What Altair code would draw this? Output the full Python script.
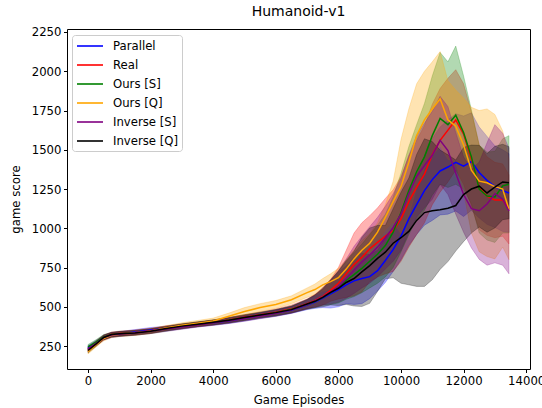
import altair as alt
import pandas as pd

episodes = [0, 250, 500, 750, 1000, 1500, 2000, 2500, 3000, 3500, 4000, 4500, 5000, 5500,
            6000, 6500, 7000, 7250, 7500, 7750, 8000, 8250, 8500, 8750, 9000, 9250, 9500,
            9750, 10000, 10250, 10500, 10750, 11000, 11250, 11500, 11750, 12000, 12250,
            12500, 12750, 13000, 13250, 13450]

series_names = ["Parallel", "Real", "Ours [S]", "Ours [Q]", "Inverse [S]", "Inverse [Q]"]
series_colors = ["blue", "red", "green", "orange", "purple", "black"]

parallel_mean = [238, 270, 303, 320, 327, 340, 353, 362, 374, 387, 398, 411, 427, 444,
                 460, 480, 512, 530, 555, 582, 610, 640, 665, 680, 692, 730, 795,
                 865, 950, 1060, 1150, 1240, 1310, 1365, 1390, 1420, 1395, 1425,
                 1355, 1305, 1265, 1240, 1225]
parallel_std = [15, 15, 15, 15, 15, 15, 15, 15, 15, 15, 16, 17, 18, 18,
                20, 22, 30, 40, 60, 90, 110, 120, 150, 160, 140, 130, 140,
                140, 150, 170, 190, 220, 260, 280, 300, 310, 320, 310,
                290, 280, 260, 260, 250]

real_mean = [228, 268, 306, 324, 330, 337, 348, 364, 376, 388, 400, 416, 433, 449,
             466, 487, 520, 540, 566, 605, 650, 710, 770, 815, 870, 910, 950,
             985, 1060, 1170, 1260, 1345, 1470, 1560, 1625, 1690, 1600, 1440,
             1260, 1205, 1180, 1180, 1120]
real_std = [15, 15, 15, 15, 15, 15, 15, 15, 15, 15, 16, 17, 18, 18,
            20, 25, 30, 40, 55, 70, 100, 150, 200, 220, 210, 220, 240,
            260, 270, 290, 300, 310, 320, 330, 330, 320, 320, 300,
            270, 250, 240, 230, 220]

ours_s_mean = [245, 275, 308, 322, 328, 335, 345, 360, 375, 390, 400, 414, 430, 446,
               462, 484, 515, 535, 560, 590, 625, 668, 705, 745, 790, 835, 890,
               975, 1100, 1240, 1360, 1455, 1590, 1700, 1660, 1720, 1610, 1455,
               1250, 1205, 1200, 1270, 1280]
ours_s_std = [15, 15, 15, 15, 15, 15, 15, 15, 15, 15, 16, 17, 18, 18,
              20, 22, 30, 40, 50, 75, 100, 120, 140, 155, 170, 185, 200,
              225, 250, 280, 300, 340, 380, 420, 400, 440, 360, 300,
              280, 280, 290, 300, 310]

ours_q_mean = [215, 258, 298, 318, 325, 333, 345, 365, 382, 395, 410, 440, 470, 495,
               515, 545, 590, 610, 640, 660, 685, 740, 805, 860, 905, 975, 1070,
               1170, 1265, 1420, 1590, 1690, 1760, 1825, 1690, 1650, 1530, 1370,
               1300, 1290, 1265, 1250, 1120]
ours_q_std = [15, 15, 15, 15, 15, 15, 15, 15, 16, 18, 18, 20, 25, 25,
              25, 25, 30, 35, 40, 50, 60, 60, 60, 60, 60, 60, 80,
              130, 300, 340, 330, 310, 300, 300, 250, 230, 300, 400,
              450, 470, 460, 370, 320]

inverse_s_mean = [232, 266, 304, 321, 326, 334, 344, 358, 372, 386, 398, 411, 426, 442,
                  459, 481, 515, 537, 562, 594, 630, 680, 735, 785, 830, 880, 940,
                  1005, 1090, 1220, 1330, 1400, 1465, 1560, 1495, 1350, 1215, 1125,
                  1112, 1155, 1220, 1185, 1110]
inverse_s_std = [15, 15, 15, 15, 15, 15, 15, 15, 15, 15, 16, 17, 18, 18,
                 20, 22, 30, 40, 50, 75, 100, 125, 150, 165, 180, 190, 200,
                 215, 230, 245, 260, 270, 280, 280, 280, 260, 240, 250,
                 310, 390, 440, 420, 400]

inverse_q_mean = [222, 262, 305, 323, 328, 334, 345, 362, 377, 389, 401, 415, 432, 448,
                  463, 482, 518, 535, 560, 592, 618, 655, 680, 722, 762, 808, 848,
                  905, 940, 980, 1050, 1100, 1112, 1118, 1128, 1145, 1215, 1250,
                  1268, 1225, 1262, 1295, 1290]
inverse_q_std = [15, 15, 15, 15, 15, 15, 15, 15, 15, 15, 16, 17, 18, 18,
                 20, 22, 30, 40, 60, 80, 110, 140, 175, 220, 240, 210, 170,
                 220, 290, 340, 420, 470, 440, 380, 340, 290, 300, 280,
                 260, 250, 260, 240, 230]

means = [parallel_mean, real_mean, ours_s_mean, ours_q_mean, inverse_s_mean, inverse_q_mean]
stds = [parallel_std, real_std, ours_s_std, ours_q_std, inverse_s_std, inverse_q_std]

rows = []
for name, m, s in zip(series_names, means, stds):
    for e, mv, sv in zip(episodes, m, s):
        rows.append({"episode": e, "score": mv, "lo": mv - sv, "hi": mv + sv,
                     "series": name, "band": name})
df = pd.DataFrame(rows)

FONT = "DejaVu Sans"
x_ticks = [0, 2000, 4000, 6000, 8000, 10000, 12000, 14000]
y_ticks = [250, 500, 750, 1000, 1250, 1500, 1750, 2000, 2250]

x_scale = alt.Scale(domain=[-672.5, 14122.5], nice=False, zero=False)
y_scale = alt.Scale(domain=[104, 2269], nice=False, zero=False)

x_axis = alt.Axis(values=x_ticks, format="d", title="Game Episodes", grid=False, domain=False,
                  tickColor="black", tickSize=3.5, labelPadding=2.5,
                  labelFont=FONT, labelFontSize=11.7, labelColor="black",
                  titleFont=FONT, titleFontSize=11.7, titleFontWeight="normal",
                  titleColor="black", titlePadding=8, labelFlush=False)
y_axis = alt.Axis(values=y_ticks, format="d", title="game score", grid=False, domain=False,
                  tickColor="black", tickSize=3.5, labelPadding=2.5,
                  labelFont=FONT, labelFontSize=11.7, labelColor="black",
                  titleFont=FONT, titleFontSize=11.7, titleFontWeight="normal",
                  titleColor="black", titlePadding=10, labelFlush=False)

band_scale = alt.Scale(domain=series_names, range=series_colors)

bands = alt.Chart(df).mark_area(fillOpacity=0.3, strokeOpacity=0.3, strokeWidth=0.8).encode(
    x=alt.X("episode:Q", scale=x_scale, axis=x_axis),
    y=alt.Y("lo:Q", scale=y_scale, axis=y_axis),
    y2="hi:Q",
    fill=alt.Fill("band:N", scale=band_scale, legend=None),
    stroke=alt.Stroke("band:N", scale=band_scale, legend=None),
)

lines = alt.Chart(df).mark_line(strokeWidth=1.5).encode(
    x=alt.X("episode:Q", scale=x_scale),
    y=alt.Y("score:Q", scale=y_scale),
    stroke=alt.Stroke(
        "series:N", scale=alt.Scale(domain=series_names, range=series_colors),
        legend=alt.Legend(orient="none", legendX=5, legendY=6, title=None,
                          symbolType="M-0.857,0H2.857", symbolSize=196,
                          symbolStrokeWidth=1.6, labelFont=FONT, labelFontSize=11.7,
                          labelColor="black", labelOffset=22, rowPadding=4,
                          padding=3, strokeColor="#cccccc",
                          fillColor="rgba(255,255,255,0.8)", cornerRadius=3),
    ),
)

chart = alt.layer(bands, lines).resolve_scale(fill="independent", stroke="independent").properties(
    width=463, height=340,
    title=alt.TitleParams("Humanoid-v1", font=FONT, fontSize=14, fontWeight="normal",
                          color="black", offset=8),
    autosize=alt.AutoSizeParams(type="none"),
    padding={"left": 67, "top": 29, "right": 12, "bottom": 39},
).configure_view(stroke="black", strokeWidth=1)

chart.save("out.html", embed_options={"renderer": "svg", "actions": False})
